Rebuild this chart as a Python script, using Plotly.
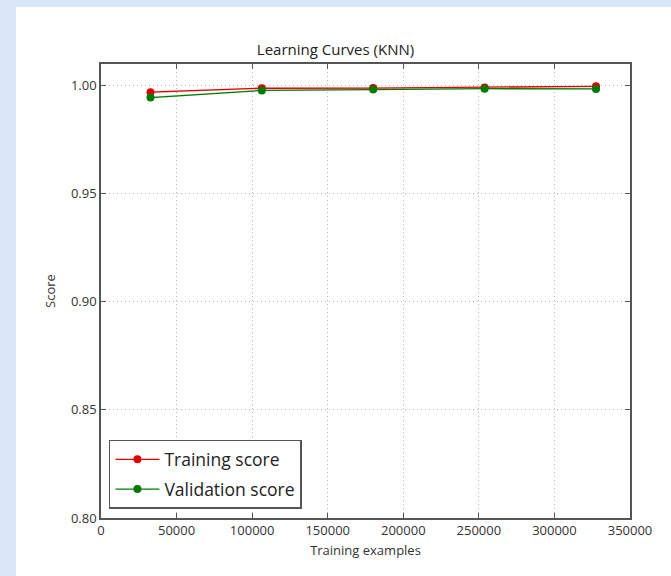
import plotly.graph_objects as go

train_sizes = [32750, 106400, 180100, 253800, 327500]
train_scores = [0.9967, 0.9985, 0.9986, 0.9989, 0.9994]
train_std = [0.0006, 0.0003, 0.0002, 0.0002, 0.0002]
val_scores = [0.9942, 0.9975, 0.9979, 0.9983, 0.9982]
val_std = [0.0006, 0.0003, 0.0002, 0.0002, 0.0002]

x_ticks = [0, 50000, 100000, 150000, 200000, 250000, 300000, 350000]
y_ticks = [0.80, 0.85, 0.90, 0.95, 1.00]

RED = "#e00000"
GREEN = "#007a00"

fig = go.Figure()

# std bands
for mean, std, col in [(train_scores, train_std, "rgba(255,0,0,0.12)"),
                       (val_scores, val_std, "rgba(0,128,0,0.12)")]:
    upper = [m + s for m, s in zip(mean, std)]
    lower = [m - s for m, s in zip(mean, std)]
    fig.add_trace(go.Scatter(x=train_sizes + train_sizes[::-1], y=upper + lower[::-1],
                             fill="toself", fillcolor=col, line=dict(width=0),
                             mode="lines", showlegend=False, hoverinfo="skip"))

fig.add_trace(go.Scatter(x=train_sizes, y=train_scores, mode="lines+markers",
                         name="Training score", legendgroup="a",
                         line=dict(color=RED, width=1.3),
                         marker=dict(color=RED, size=8)))
fig.add_trace(go.Scatter(x=train_sizes, y=val_scores, mode="lines+markers",
                         name="Validation score", legendgroup="b",
                         line=dict(color=GREEN, width=1.3),
                         marker=dict(color=GREEN, size=8)))

# photo-frame background
fig.add_shape(type="rect", xref="paper", yref="paper", layer="below",
              x0=-85/529, x1=600/529, y0=-70/454, y1=(518-7)/454,
              fillcolor="white", line=dict(width=0))

axis_common = dict(showline=True, linecolor="#555555", linewidth=1.5, mirror="allticks",
                   ticks="inside", ticklen=5, tickcolor="#555555",
                   showgrid=True, gridcolor="#b5b5b5", griddash="1px,3px", gridwidth=1,
                   zeroline=False, tickfont=dict(size=13, color="#333333"))

fig.update_layout(
    width=671, height=576,
    margin=dict(l=101, r=41, t=64, b=58),
    paper_bgcolor="#d9e7f6",
    plot_bgcolor="white",
    font=dict(family="Open Sans, DejaVu Sans, sans-serif", color="#333333"),
    title=dict(text="Learning Curves (KNN)", x=0.5, xanchor="center",
               y=1 - 50/576, yanchor="middle", font=dict(size=15, color="#222222")),
    xaxis=dict(range=[0, 350000], tickvals=x_ticks, ticktext=[str(v) for v in x_ticks],
               title=dict(text="Training examples", font=dict(size=13), standoff=8),
               **axis_common),
    yaxis=dict(range=[0.80, 1.0097], tickvals=y_ticks, ticktext=["%.2f" % v for v in y_ticks],
               title=dict(text="Score", font=dict(size=13), standoff=12),
               **axis_common),
    legend=dict(x=0.015, y=0.02, xanchor="left", yanchor="bottom",
                bgcolor="white", bordercolor="#555555", borderwidth=1.5,
                font=dict(size=17.5, color="#222222"), itemwidth=44,
                tracegroupgap=4),
    showlegend=True,
)

fig.write_html("out.html", config={"displayModeBar": False},
               post_script="document.body.style.margin='0';document.body.style.padding='0';")
